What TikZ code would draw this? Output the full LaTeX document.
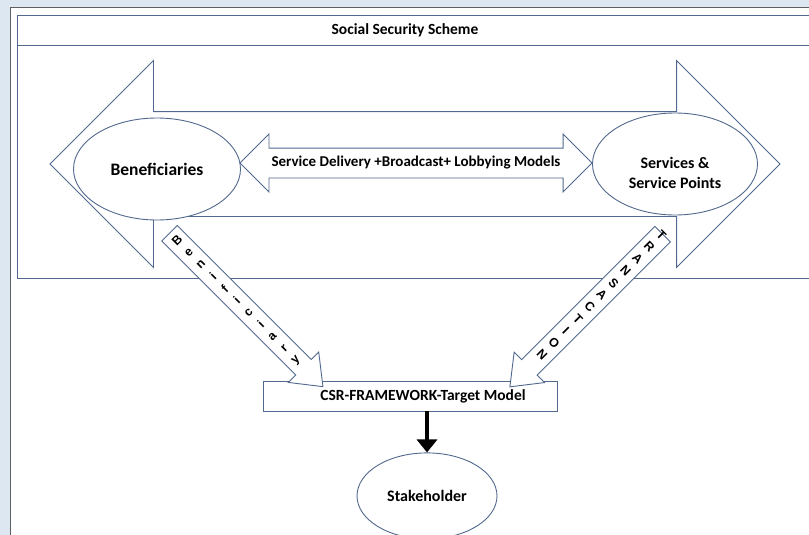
\documentclass[tikz,border=0pt]{standalone}
\usepackage{fontspec}
\setmainfont{Carlito}
\newfontfamily\letterfont{Liberation Sans}
\usetikzlibrary{shapes.geometric,shapes.arrows,arrows.meta,calc,positioning}

\definecolor{pagebg}{RGB}{221,231,242}
\definecolor{framegray}{RGB}{95,95,95}
\definecolor{shapeline}{RGB}{82,104,142}

\begin{document}
\begin{tikzpicture}[x=1pt, y=-1pt, line width=0.9pt,
    oval/.style={ellipse, draw=shapeline, fill=white, inner sep=0pt},
    flow/.style={double arrow, draw=shapeline, fill=white, double arrow tip angle=90,
                 inner xsep=0pt, minimum width=0pt},
    pointer/.style={single arrow, draw=shapeline, fill=white, single arrow tip angle=76,
                    single arrow head extend=10.5pt, inner xsep=0pt, inner ysep=10.5pt, minimum width=0pt},
    letter/.style={font=\letterfont\bfseries\fontsize{12.5}{12.5}\selectfont, inner sep=0pt},
    txt/.style={font=\bfseries\fontsize{#1}{#1}\selectfont},
    fat/.style={line width=4.5pt, -{Triangle[width=20pt,length=13pt]}}]

    \useasboundingbox (0,0) rectangle (809,535);
    \clip (0,0) rectangle (809,535);

    % page and scheme frame
    \fill[pagebg] (0,0) rectangle (809,535);
    \draw[framegray, fill=white] (10,7) rectangle (830,560);
    \draw[shapeline] (17,15) rectangle (830,278);
    \draw[shapeline] (17,45) -- (830,45);
    \node[txt=15.5]           (title)   at (405,30)     {Social Security Scheme};

    \node[flow, minimum height=730pt, inner ysep=52pt, double arrow head extend=51pt]
                              (band)    at (415,164)    {};

    \node[oval, minimum width=167pt, minimum height=102pt, txt=17.5]
                              (benef)   at (157,169)    {Beneficiaries};
    \node[oval, minimum width=165pt, minimum height=102pt,
          label={[yshift=-9pt, align=center, txt=16]center:Services \&\\[4pt]Service Points}]
                              (serv)    at (675,164)    {};

    \node[flow, minimum height=352pt, text height=11pt, text depth=3.5pt, inner ysep=7.25pt,
          double arrow head extend=14pt, txt=15]
                              (models)  at (416,163)    {Service Delivery +Broadcast+ Lobbying Models};

    \node[draw=shapeline, fill=white, minimum width=294pt, minimum height=30pt, txt=15.5]
                              (csr)     at (410,396)    {\hspace{26pt}CSR-FRAMEWORK-Target Model};

    % ends of the two slanted arrows
    \coordinate (bentail) at ($(benef.south)+(8,8)$);
    \coordinate (bentip)  at ($(csr.north west)+(55,1)$);
    \coordinate (trtail)  at ($(serv.south)+(-8,14)$);
    \coordinate (trtip)   at ($(csr.north east)+(-42,1)$);

    \node[pointer, rotate=-45, minimum height=217pt]  (benarrow) at ($(bentail)!0.5!(bentip)$) {};
    \node[pointer, rotate=-135, minimum height=216pt] (trarrow)  at ($(trtail)!0.5!(trtip)$)   {};

    \foreach \ch [count=\i] in {B,e,n,i,f,i,c,i,a,r,y}
        \node[letter, rotate=45]  at ($(bentail)!{\i*17/217}!(bentip)$) {\ch};
    \foreach \ch [count=\i] in {T,R,A,N,S,A,C,T,I,O,N}
        \node[letter, rotate=-45] at ($(trtail)!{(\i*17-9)/216}!(trtip)$) {\ch};

    \node[oval, minimum width=140pt, minimum height=86pt, txt=16]
                              (stake)   [below=41pt of csr.south, xshift=17pt] {Stakeholder};

    \draw[fat] (csr.south -| stake.north) -- (stake.north);
\end{tikzpicture}
\end{document}
